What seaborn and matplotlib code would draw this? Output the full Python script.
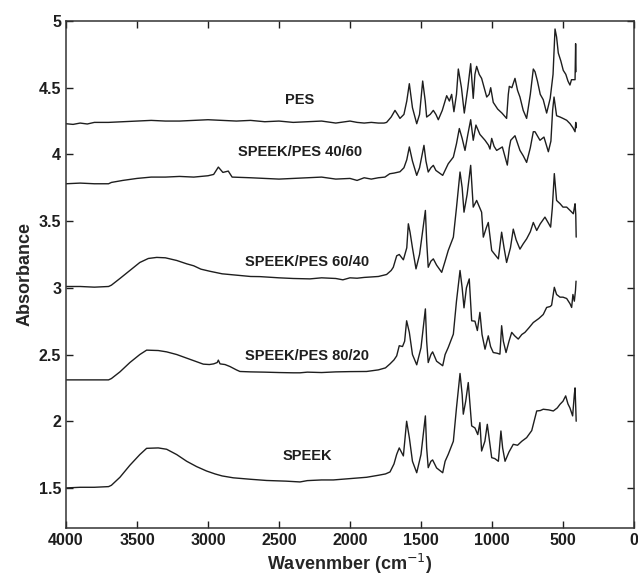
import pandas as pd
import matplotlib
matplotlib.use('Agg')
import matplotlib.pyplot as plt
import seaborn as sns
from matplotlib.ticker import FormatStrFormatter

# FTIR spectra, wavenumber (cm-1) vs absorbance
pes_wn = [4000, 3950, 3900, 3850, 3800, 3700, 3600, 3500, 3400, 3300, 3200, 3100, 3000, 2900, 2800,
          2700, 2600, 2500, 2400, 2300, 2200, 2100, 2000, 1950, 1900, 1850, 1800, 1760, 1742, 1710,
          1683, 1665, 1648, 1620, 1600, 1582, 1560, 1530, 1510, 1488, 1470, 1460, 1435, 1413, 1395,
          1378, 1350, 1319, 1300, 1284, 1268, 1250, 1237, 1215, 1195, 1170, 1150, 1132, 1120, 1108,
          1090, 1073, 1055, 1037, 1020, 1009, 991, 960, 930, 897, 885, 878, 860, 838, 820, 803, 780,
          756, 730, 709, 697, 680, 660, 639, 615, 590, 570, 556, 545, 533, 515, 498, 480, 465, 451,
          440, 427, 415, 411, 408]
pes_abs = [4.23, 4.225, 4.235, 4.228, 4.24, 4.24, 4.245, 4.25, 4.255, 4.25, 4.25, 4.255, 4.26, 4.255, 4.25,
           4.255, 4.245, 4.25, 4.24, 4.245, 4.25, 4.235, 4.25, 4.24, 4.235, 4.24, 4.235, 4.235, 4.24, 4.28,
           4.33, 4.3, 4.27, 4.3, 4.4, 4.53, 4.35, 4.23, 4.3, 4.55, 4.4, 4.28, 4.3, 4.33, 4.3,
           4.26, 4.33, 4.44, 4.4, 4.45, 4.32, 4.45, 4.64, 4.5, 4.31, 4.5, 4.68, 4.42, 4.6, 4.66,
           4.6, 4.57, 4.5, 4.43, 4.45, 4.5, 4.39, 4.34, 4.31, 4.27, 4.45, 4.51, 4.5, 4.57, 4.48, 4.43, 4.33,
           4.27, 4.45, 4.64, 4.62, 4.55, 4.45, 4.41, 4.31, 4.42, 4.6, 4.94, 4.88, 4.76, 4.7, 4.63, 4.6, 4.55, 4.52,
           4.56, 4.56, 4.56, 4.83, 4.62]

b4060_wn = [4000, 3900, 3800, 3700, 3680, 3600, 3500, 3400, 3300, 3200, 3100, 3000, 2960, 2927, 2895,
            2857, 2830, 2700, 2600, 2500, 2400, 2300, 2200, 2100, 2000, 1950, 1900, 1850, 1800, 1754,
            1720, 1690, 1648, 1620, 1600, 1582, 1560, 1530, 1510, 1479, 1465, 1449, 1430, 1413, 1395,
            1347, 1308, 1272, 1250, 1230, 1210, 1190, 1170, 1150, 1132, 1113, 1085, 1049, 1025, 1014,
            1002, 985, 967, 927, 892, 878, 868, 838, 803, 780, 756, 730, 709, 697, 662, 634, 603, 585,
            573, 563, 545, 520, 500, 474, 450, 430, 415, 410, 406]
b4060_abs = [3.78, 3.785, 3.78, 3.78, 3.79, 3.805, 3.82, 3.83, 3.83, 3.835, 3.83, 3.84, 3.85, 3.905, 3.865,
             3.875, 3.83, 3.825, 3.82, 3.815, 3.82, 3.825, 3.83, 3.815, 3.82, 3.805, 3.825, 3.815, 3.825, 3.83,
             3.855, 3.86, 3.87, 3.9, 3.96, 4.056, 3.95, 3.843, 3.9, 4.068, 3.95, 3.868, 3.9, 3.918, 3.88,
             3.843, 3.93, 3.98, 4.08, 4.194, 4.12, 4.03, 4.15, 4.26, 4.106, 4.22, 4.15, 4.106, 4.07, 4.04,
             4.12, 4.06, 4.03, 4.056, 3.92, 4.05, 4.106, 4.14, 4.03, 3.99, 3.94, 4.05, 4.17, 4.17, 4.106, 4.13, 4.02, 4.1,
             4.33, 4.43, 4.29, 4.28, 4.27, 4.256, 4.23, 4.2, 4.17, 4.24, 4.2]

b6040_wn = [4000, 3900, 3800, 3700, 3680, 3620, 3550, 3480, 3420, 3361, 3300, 3220, 3150, 3100, 3050,
            2986, 2900, 2800, 2700, 2634, 2500, 2400, 2282, 2200, 2100, 2050, 2000, 1950, 1900, 1800,
            1742, 1710, 1695, 1671, 1653, 1624, 1600, 1589, 1577, 1560, 1535, 1510, 1469, 1460, 1449,
            1430, 1413, 1390, 1354, 1330, 1308, 1272, 1250, 1225, 1210, 1197, 1175, 1150, 1132, 1108,
            1073, 1061, 1040, 1026, 1002, 980, 955, 932, 915, 897, 870, 850, 830, 803, 780, 756, 730,
            709, 685, 660, 627, 600, 587, 575, 561, 545, 520, 500, 474, 450, 427, 420, 415, 410, 407]
b6040_abs = [3.01, 3.01, 3.005, 3.01, 3.02, 3.07, 3.13, 3.19, 3.22, 3.228, 3.225, 3.205, 3.18, 3.165, 3.14,
             3.124, 3.105, 3.095, 3.085, 3.084, 3.075, 3.07, 3.067, 3.075, 3.07, 3.06, 3.075, 3.072, 3.078, 3.085,
             3.10, 3.13, 3.154, 3.24, 3.25, 3.21, 3.3, 3.48, 3.417, 3.3, 3.142, 3.25, 3.58, 3.35, 3.154,
             3.2, 3.217, 3.17, 3.116, 3.2, 3.28, 3.38, 3.6, 3.868, 3.75, 3.567, 3.7, 3.918, 3.605, 3.655,
             3.567, 3.38, 3.45, 3.49, 3.28, 3.25, 3.217, 3.417, 3.3, 3.19, 3.3, 3.44, 3.36, 3.29, 3.33, 3.367, 3.42,
             3.49, 3.43, 3.48, 3.53, 3.48, 3.455, 3.6, 3.856, 3.655, 3.63, 3.605, 3.605, 3.58, 3.555, 3.6, 3.63, 3.55, 3.38]

b8020_wn = [4000, 3900, 3800, 3700, 3680, 3620, 3550, 3480, 3432, 3350, 3291, 3220, 3150, 3090, 3033,
            2990, 2960, 2935, 2927, 2915, 2880, 2845, 2800, 2775, 2700, 2600, 2500, 2400, 2352, 2300,
            2200, 2100, 2000, 1883, 1800, 1750, 1718, 1690, 1671, 1653, 1630, 1615, 1601, 1582, 1560,
            1530, 1500, 1469, 1460, 1449, 1430, 1418, 1390, 1347, 1330, 1308, 1272, 1250, 1225, 1210,
            1197, 1180, 1160, 1143, 1120, 1103, 1085, 1070, 1049, 1026, 1010, 991, 965, 944, 932, 920,
            901, 880, 861, 840, 815, 790, 768, 740, 709, 670, 639, 615, 590, 580, 561, 545, 521, 500,
            474, 450, 439, 430, 420, 412, 408]
b8020_abs = [2.31, 2.31, 2.31, 2.31, 2.32, 2.37, 2.44, 2.5, 2.533, 2.53, 2.52, 2.5, 2.473, 2.45, 2.428,
             2.425, 2.43, 2.44, 2.458, 2.43, 2.425, 2.41, 2.385, 2.373, 2.37, 2.368, 2.365, 2.363, 2.363, 2.368,
             2.365, 2.37, 2.372, 2.373, 2.385, 2.4, 2.43, 2.46, 2.49, 2.566, 2.56, 2.6, 2.753, 2.666, 2.5,
             2.423, 2.55, 2.842, 2.6, 2.44, 2.5, 2.52, 2.45, 2.416, 2.5, 2.553, 2.653, 2.9, 3.13, 3.0,
             2.85, 3.0, 3.067, 2.753, 2.75, 2.68, 2.816, 2.65, 2.54, 2.64, 2.56, 2.515, 2.51, 2.503, 2.716, 2.6,
             2.515, 2.6, 2.666, 2.64, 2.616, 2.65, 2.666, 2.7, 2.74, 2.77, 2.80, 2.853, 2.86, 2.87, 3.004, 2.95, 2.93, 2.93,
             2.92, 2.88, 2.853, 2.95, 2.9, 2.98, 3.05]

speek_wn = [4000, 3900, 3800, 3700, 3680, 3620, 3550, 3480, 3432, 3350, 3291, 3220, 3150, 3080, 3010,
            2950, 2900, 2822, 2700, 2587, 2450, 2352, 2300, 2200, 2117, 2000, 1883, 1800, 1750, 1718,
            1690, 1671, 1653, 1624, 1601, 1582, 1560, 1530, 1500, 1469, 1460, 1449, 1430, 1418, 1390,
            1347, 1330, 1308, 1272, 1250, 1225, 1210, 1202, 1185, 1167, 1143, 1120, 1100, 1085, 1073,
            1050, 1033, 1002, 980, 955, 937, 925, 908, 880, 850, 820, 790, 756, 720, 685, 660, 639,
            600, 568, 540, 521, 500, 481, 465, 451, 432, 420, 415, 410, 407]
speek_abs = [1.50, 1.505, 1.505, 1.51, 1.52, 1.58, 1.67, 1.75, 1.797, 1.8, 1.79, 1.75, 1.70, 1.66, 1.627,
             1.605, 1.59, 1.576, 1.565, 1.556, 1.551, 1.545, 1.555, 1.56, 1.56, 1.57, 1.58, 1.595, 1.605, 1.62,
             1.68, 1.752, 1.80, 1.74, 2.0, 1.877, 1.7, 1.614, 1.75, 2.04, 1.8, 1.652, 1.7, 1.71, 1.65,
             1.614, 1.7, 1.752, 1.85, 2.1, 2.358, 2.2, 2.053, 2.15, 2.29, 1.965, 1.95, 1.9, 1.99, 1.777,
             1.85, 1.977, 1.727, 1.72, 1.70, 1.927, 1.8, 1.70, 1.77, 1.827, 1.82, 1.85, 1.877, 1.93, 2.077, 2.08, 2.09,
             2.085, 2.077, 2.1, 2.127, 2.15, 2.19, 2.13, 2.10, 2.04, 2.2, 2.25, 2.1, 2.0]

series = {
    'PES': (pes_wn, pes_abs),
    'SPEEK/PES 40/60': (b4060_wn, b4060_abs),
    'SPEEK/PES 60/40': (b6040_wn, b6040_abs),
    'SPEEK/PES 80/20': (b8020_wn, b8020_abs),
    'SPEEK': (speek_wn, speek_abs),
}

# label positions (wavenumber, absorbance)
label_pos = {
    'PES': (2352, 4.41),
    'SPEEK/PES 40/60': (2352, 4.02),
    'SPEEK/PES 60/40': (2300, 3.19),
    'SPEEK/PES 80/20': (2300, 2.49),
    'SPEEK': (2300, 1.74),
}

sns.set_style('ticks')
plt.rcParams['font.family'] = ['Liberation Sans', 'DejaVu Sans']

fig = plt.figure(figsize=(6.38, 5.8), dpi=100)
ax = fig.add_axes([0.1034, 0.0897, 0.8903, 0.8741])

for name, (wn, ab) in series.items():
    df = pd.DataFrame({'wn': wn, 'abs': ab})
    sns.lineplot(data=df, x='wn', y='abs', sort=False, estimator=None,
                 color='#1e1e1e', linewidth=1.0, ax=ax)
    lx, ly = label_pos[name]
    ax.text(lx, ly, name, ha='center', va='center', fontsize=10.5, fontweight='bold',
            family=['Liberation Sans Narrow', 'Liberation Sans', 'DejaVu Sans'], color='#1e1e1e')

ax.set_xlim(4000, 0)
ax.set_ylim(1.2, 5)
ax.set_xticks([4000, 3500, 3000, 2500, 2000, 1500, 1000, 500, 0])
ax.set_yticks([1.5, 2, 2.5, 3, 3.5, 4, 4.5, 5])
ax.yaxis.set_major_formatter(FormatStrFormatter('%g'))
ax.tick_params(direction='in', top=True, right=True, length=5, width=1,
               labelsize=11.5, colors='#1e1e1e')
for lab in ax.get_xticklabels() + ax.get_yticklabels():
    lab.set_fontweight('bold')
for sp in ax.spines.values():
    sp.set_linewidth(1.1)
    sp.set_color('#333333')

ax.set_xlabel('Wavenmber (cm$^{-1}$)', fontsize=13, fontweight='bold', labelpad=3)
ax.set_ylabel('Absorbance', fontsize=13, fontweight='bold', labelpad=4)

fig.savefig('out.png', dpi=100)
